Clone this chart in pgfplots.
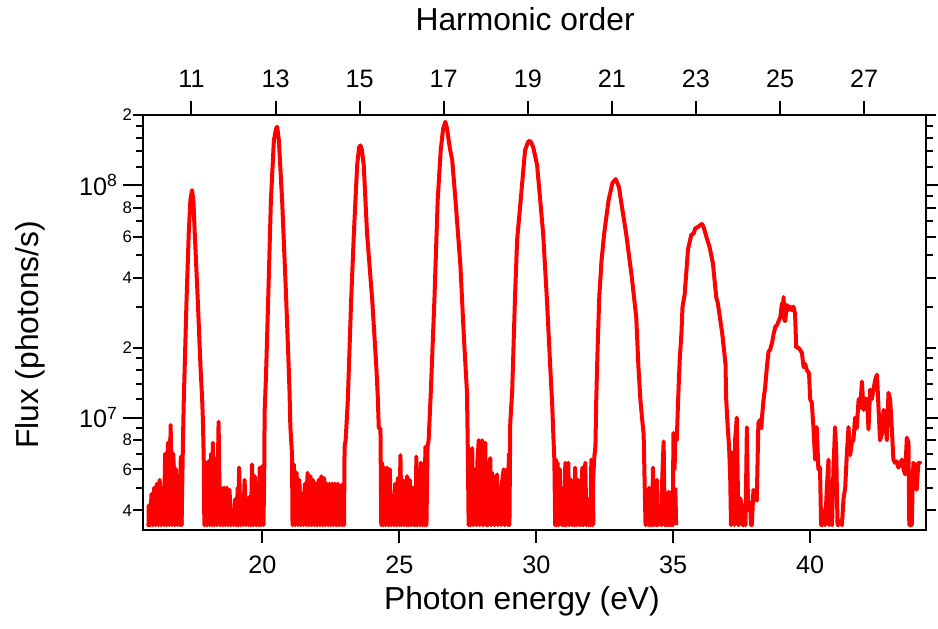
\documentclass[border=0pt]{standalone}
\usepackage{fontspec}
\setmainfont{Liberation Sans}
\usepackage{pgfplots}
\pgfplotsset{compat=1.18}
\begin{document}
\begin{tikzpicture}
\begin{axis}[
  name=main,
  scale only axis, width=391.5pt, height=207.5pt,
  xmin=15.64, xmax=44.23,
  ymode=log, ymin=3.29e6, ymax=2.0e8,
  axis line style={line width=1pt, black},
  every tick/.style={line width=1pt, black},
  tick align=outside,
  xtick pos=left,
  xtick=\empty,
  extra x ticks={20,25,30,35,40},
  extra x tick labels={20,25,30,35,40},
  extra x tick style={major tick length=6.5pt, xtick pos=left},
  xticklabel style={yshift=-3pt},
  minor xtick={16,...,44},
  major tick length=10pt, minor tick length=3.5pt,
  ytick={1e7,1e8},
  yticklabels={10\textsuperscript{7},10\textsuperscript{8}},
  yticklabel style={xshift=1pt},
  minor ytick={5e6,7e6,9e6,1.2e7,1.4e7,1.6e7,1.8e7,3e7,5e7,7e7,9e7,1.2e8,1.4e8,1.6e8,1.8e8},
  extra y ticks={4e6,6e6,8e6,2e7,4e7,6e7,8e7,2e8},
  extra y tick labels={4,6,8,2,4,6,8,2},
  extra y tick style={major tick length=5pt, yticklabel style={font=\fontsize{8.4}{10}\selectfont, xshift=2pt}},
  yticklabel pos=left,
  /pgf/number format/assume math mode=true,
  tick label style={font=\fontsize{12.6}{14}\selectfont},
  xlabel={Photon energy (eV)},
  xlabel style={at={(axis description cs:0.484,-0.1925)}, anchor=base, font=\fontsize{15.9}{18}\selectfont},
  ylabel={Flux (photons/s)},
  ylabel style={at={(axis description cs:-0.134,0.47)}, anchor=base, font=\fontsize{15.9}{18}\selectfont},
]
% solid parts of the noise floor
\addplot[forget plot, fill=red, draw=none] coordinates {(15.84,3.45e6) (15.85,4.2e6) (15.95,4.7e6) (16.05,5.0e6) (16.15,5.2e6) (16.25,5.4e6) (16.35,5.0e6) (16.45,7.0e6) (16.55,7.8e6) (16.65,9.3e6) (16.75,7.0e6) (16.85,6.0e6) (16.95,5.6e6) (17.02,6.8e6) (17.08,5.8e6) (17.10,8.0e6) (17.12,3.45e6)};
\addplot[forget plot, fill=red, draw=none] coordinates {(17.86,3.45e6) (17.86,6.4e6) (17.93,6.4e6) (18.03,6.5e6) (18.13,7.0e6) (18.19,7.8e6) (18.29,6.6e6) (18.40,9.6e6) (18.50,5.0e6) (18.60,5.0e6) (18.70,5.0e6) (18.80,4.9e6) (18.90,3.9e6) (19.00,4.45e6) (19.10,5.0e6) (19.15,6.1e6) (19.25,4.5e6) (19.35,5.4e6) (19.45,4.5e6) (19.55,4.6e6) (19.62,6.3e6) (19.72,5.6e6) (19.82,5.2e6) (19.90,6.1e6) (20.00,6.2e6) (20.07,6.4e6) (20.08,3.45e6)};
\addplot[forget plot, fill=red, draw=none] coordinates {(21.08,3.45e6) (21.08,7.0e6) (21.15,6.3e6) (21.25,5.8e6) (21.35,5.4e6) (21.45,4.7e6) (21.55,5.2e6) (21.65,5.8e6) (21.75,5.6e6) (21.85,5.4e6) (21.95,5.2e6) (22.05,5.4e6) (22.15,5.6e6) (22.25,5.5e6) (22.35,5.2e6) (22.45,5.2e6) (22.55,5.2e6) (22.65,5.2e6) (22.75,5.2e6) (22.85,5.1e6) (22.95,5.2e6) (23.00,7.5e6) (23.00,3.45e6)};
\addplot[forget plot, fill=red, draw=none] coordinates {(24.31,3.45e6) (24.31,6.4e6) (24.45,6.0e6) (24.65,5.8e6) (24.75,4.6e6) (24.85,5.2e6) (25.04,5.6e6) (25.22,5.2e6) (25.38,5.3e6) (25.48,5.0e6) (25.62,5.3e6) (25.70,4.9e6) (25.79,5.2e6) (25.88,4.6e6) (25.97,5.0e6) (26.03,3.45e6)};
\addplot[forget plot, fill=red, draw=none] coordinates {(27.50,3.45e6) (27.50,6.0e6) (27.63,5.4e6) (27.74,5.8e6) (27.85,5.8e6) (27.96,5.8e6) (28.08,5.8e6) (28.20,4.5e6) (28.26,5.4e6) (28.38,5.5e6) (28.50,5.0e6) (28.57,5.3e6) (28.69,4.6e6) (28.81,5.3e6) (28.93,5.5e6) (29.03,5.5e6) (29.05,3.45e6)};
\addplot[forget plot, fill=red, draw=none] coordinates {(30.66,3.45e6) (30.66,5.5e6) (30.78,5.0e6) (30.90,4.3e6) (30.95,3.45e6) (31.04,3.45e6) (31.06,4.6e6) (31.28,4.6e6) (31.35,4.3e6) (31.50,4.6e6) (31.68,4.6e6) (31.80,4.6e6) (31.87,3.9e6) (31.95,4.2e6) (32.05,4.5e6) (32.14,5.0e6) (32.16,3.45e6)};
\addplot[forget plot, fill=red, draw=none] coordinates {(33.96,3.45e6) (33.96,4.5e6) (34.10,4.3e6) (34.26,4.5e6) (34.41,4.5e6) (34.47,3.8e6) (34.60,4.2e6) (34.70,3.45e6) (34.83,4.2e6) (34.95,4.2e6) (35.05,5.0e6) (35.15,5.0e6) (35.18,3.45e6)};
% the spectrum
\addplot[red, line width=2pt, line join=round, line cap=round] coordinates {
(15.84,3.45e6) (15.85,4.2e6) (15.90,3.45e6) (15.95,4.7e6) (16.00,3.45e6) (16.05,5.0e6) (16.10,3.45e6) (16.15,5.2e6) (16.20,3.45e6) (16.25,5.4e6) (16.30,3.45e6) (16.35,5.0e6) (16.40,3.45e6) (16.45,7.0e6) (16.50,3.45e6) (16.55,7.8e6) (16.60,3.45e6) (16.65,9.3e6) (16.70,3.45e6) (16.75,7.0e6) (16.80,3.45e6) (16.85,6.0e6) (16.90,3.45e6) (16.95,5.6e6) (16.99,3.45e6) (17.02,6.8e6) (17.05,3.45e6) (17.08,5.8e6)
(17.10,8.0e6) (17.13,1.2e7) (17.23,3.2e7) (17.31,6.2e7) (17.37,8.6e7) (17.43,9.5e7) (17.48,8.6e7) (17.53,6.2e7) (17.64,3.2e7) (17.74,1.65e7) (17.80,1.2e7) (17.83,9.5e6) (17.86,6.4e6)
(17.88,3.45e6) (17.93,6.4e6) (17.98,3.45e6) (18.03,6.5e6) (18.08,3.45e6) (18.13,7.0e6) (18.16,3.45e6) (18.19,7.8e6) (18.24,3.45e6) (18.29,6.6e6) (18.34,3.45e6) (18.40,9.6e6) (18.45,3.45e6) (18.50,5.0e6) (18.55,3.45e6) (18.60,5.0e6) (18.65,3.45e6) (18.70,5.0e6) (18.75,3.45e6) (18.80,4.9e6) (18.85,3.45e6) (18.90,3.9e6) (18.95,3.45e6) (19.00,4.45e6) (19.05,3.45e6) (19.10,5.0e6) (19.12,3.45e6) (19.15,6.1e6) (19.20,3.45e6) (19.25,4.5e6) (19.30,3.45e6) (19.35,5.4e6) (19.40,3.45e6) (19.45,4.5e6) (19.50,3.45e6) (19.55,4.6e6) (19.58,3.45e6) (19.62,6.3e6) (19.67,3.45e6) (19.72,5.6e6) (19.77,3.45e6) (19.82,5.2e6) (19.86,3.45e6) (19.90,6.1e6) (19.95,3.45e6) (20.00,6.2e6) (20.04,3.45e6) (20.07,6.4e6)
(20.08,1.05e7) (20.13,1.5e7) (20.21,3.2e7) (20.31,8.6e7) (20.42,1.56e8) (20.50,1.75e8) (20.54,1.78e8) (20.60,1.56e8) (20.72,8.6e7) (20.87,3.2e7) (20.96,1.65e7) (20.99,1.3e7) (21.02,9.2e6) (21.08,7.0e6)
(21.10,3.45e6) (21.15,6.3e6) (21.20,3.45e6) (21.25,5.8e6) (21.30,3.45e6) (21.35,5.4e6) (21.40,3.45e6) (21.45,4.7e6) (21.50,3.45e6) (21.55,5.2e6) (21.60,3.45e6) (21.65,5.8e6) (21.70,3.45e6) (21.75,5.6e6) (21.80,3.45e6) (21.85,5.4e6) (21.90,3.45e6) (21.95,5.2e6) (22.00,3.45e6) (22.05,5.4e6) (22.10,3.45e6) (22.15,5.6e6) (22.20,3.45e6) (22.25,5.5e6) (22.30,3.45e6) (22.35,5.2e6) (22.40,3.45e6) (22.45,5.2e6) (22.50,3.45e6) (22.55,5.2e6) (22.60,3.45e6) (22.65,5.2e6) (22.70,3.45e6) (22.75,5.2e6) (22.80,3.45e6) (22.85,5.1e6) (22.90,3.45e6) (22.95,5.2e6) (22.98,3.45e6)
(23.00,7.5e6) (23.04,8.0e6) (23.12,1.2e7) (23.24,3.2e7) (23.34,6.2e7) (23.46,1.22e8) (23.53,1.45e8) (23.58,1.48e8) (23.63,1.42e8) (23.70,1.22e8) (23.82,6.2e7) (24.01,3.2e7) (24.16,1.65e7) (24.21,1.25e7) (24.25,9.0e6) (24.31,9.0e6)
(24.34,3.45e6) (24.37,6.4e6) (24.41,3.45e6) (24.45,6.1e6) (24.50,3.45e6) (24.55,6.1e6) (24.60,3.45e6) (24.65,6.0e6) (24.70,3.45e6) (24.75,4.6e6) (24.80,3.45e6) (24.85,5.2e6) (24.90,3.45e6) (24.95,5.5e6) (25.00,3.45e6) (25.04,6.9e6) (25.08,3.45e6) (25.12,5.4e6) (25.17,3.45e6) (25.22,5.2e6) (25.25,3.45e6) (25.28,5.6e6) (25.33,3.45e6) (25.38,5.4e6) (25.43,3.45e6) (25.48,5.0e6) (25.53,3.45e6) (25.57,5.0e6) (25.60,3.45e6) (25.62,6.8e6) (25.66,3.45e6) (25.70,4.9e6) (25.75,3.45e6) (25.79,6.4e6) (25.84,3.45e6) (25.88,4.6e6) (25.92,3.45e6) (25.95,7.5e6) (25.99,3.45e6)
(26.03,7.5e6) (26.07,8.0e6) (26.15,1.3e7) (26.28,3.2e7) (26.40,8.6e7) (26.51,1.41e8) (26.60,1.75e8) (26.68,1.87e8) (26.74,1.75e8) (26.84,1.45e8) (26.93,1.28e8) (27.05,8.6e7) (27.23,4.5e7) (27.35,2.3e7) (27.47,1.28e7) (27.50,7.3e6)
(27.53,3.45e6) (27.56,7.3e6) (27.60,3.45e6) (27.63,5.4e6) (27.66,7.4e6) (27.70,3.45e6) (27.74,6.0e6) (27.78,5.6e6) (27.81,3.45e6) (27.85,6.5e6) (27.90,8.0e6) (27.93,3.45e6) (27.96,6.0e6) (28.02,8.0e6) (28.05,3.45e6) (28.08,6.5e6) (28.14,7.8e6) (28.17,3.45e6) (28.20,4.5e6) (28.23,3.45e6) (28.26,5.6e6) (28.32,6.7e6) (28.35,3.45e6) (28.38,5.8e6) (28.44,5.4e6) (28.47,3.45e6) (28.50,5.0e6) (28.57,5.7e6) (28.60,3.45e6) (28.63,5.0e6) (28.69,4.6e6) (28.72,3.45e6) (28.75,5.3e6) (28.81,6.0e6) (28.84,3.45e6) (28.87,5.2e6) (28.93,6.0e6) (28.96,3.45e6) (29.00,7.0e6) (29.02,3.45e6)
(29.05,9.5e6) (29.12,1.3e7) (29.22,3.2e7) (29.30,5.8e7) (29.43,8.6e7) (29.59,1.41e8) (29.70,1.53e8) (29.76,1.55e8) (29.82,1.52e8) (29.89,1.45e8) (30.03,1.22e8) (30.25,6.2e7) (30.39,3.2e7) (30.51,1.65e7) (30.58,1.15e7) (30.63,8.0e6) (30.66,6.6e6)
(30.69,3.45e6) (30.72,6.6e6) (30.75,3.45e6) (30.78,6.4e6) (30.82,3.45e6) (30.86,6.0e6) (30.90,4.5e6) (30.95,3.45e6) (31.00,3.6e6) (31.03,3.45e6) (31.06,6.4e6) (31.10,3.45e6) (31.14,5.0e6) (31.17,6.4e6) (31.20,3.45e6) (31.24,5.0e6) (31.28,5.4e6) (31.31,3.45e6) (31.35,4.5e6) (31.39,3.45e6) (31.42,6.1e6) (31.46,3.45e6) (31.50,5.0e6) (31.53,5.4e6) (31.57,3.45e6) (31.61,5.2e6) (31.64,3.45e6) (31.68,6.1e6) (31.72,3.45e6) (31.76,5.0e6) (31.79,6.4e6) (31.83,3.45e6) (31.87,4.0e6) (31.91,3.45e6) (31.95,4.5e6) (31.98,3.45e6) (32.01,6.6e6) (32.05,3.45e6) (32.08,5.5e6) (32.12,6.8e6)
(32.16,7.5e6) (32.19,1.2e7) (32.24,2.0e7) (32.30,3.3e7) (32.38,4.7e7) (32.48,6.2e7) (32.64,8.6e7) (32.78,1.02e8) (32.90,1.06e8) (33.02,9.8e7) (33.09,8.6e7) (33.28,6.2e7) (33.49,4.0e7) (33.65,2.7e7) (33.73,1.65e7) (33.80,1.2e7) (33.86,1.0e7) (33.92,8.5e6) (33.96,5.0e6)
(33.99,3.45e6) (34.02,4.5e6) (34.06,4.3e6) (34.09,3.45e6) (34.12,5.0e6) (34.16,3.45e6) (34.20,4.2e6) (34.23,3.45e6) (34.26,6.1e6) (34.30,3.45e6) (34.34,5.0e6) (34.38,3.45e6) (34.41,5.4e6) (34.44,3.45e6) (34.47,4.0e6) (34.53,3.6e6) (34.57,3.45e6) (34.60,5.5e6) (34.65,7.9e6) (34.69,3.45e6) (34.71,3.8e6) (34.74,3.45e6) (34.77,4.5e6) (34.80,3.45e6) (34.83,4.8e6) (34.87,3.45e6) (34.90,4.0e6) (34.93,3.45e6) (34.95,4.8e6) (34.98,3.45e6) (35.01,8.6e6) (35.05,6.0e6) (35.08,8.4e6) (35.13,8.0e6)
(35.18,1.2e7) (35.24,1.8e7) (35.30,2.3e7) (35.34,3.0e7) (35.42,3.4e7) (35.54,5.3e7) (35.66,6.1e7) (35.75,6.2e7) (35.80,6.5e7) (35.90,6.6e7) (35.97,6.7e7) (36.05,6.8e7) (36.11,6.6e7) (36.21,6.0e7) (36.33,5.4e7) (36.45,4.6e7) (36.57,3.3e7) (36.63,3.1e7) (36.79,2.3e7) (36.91,1.7e7) (36.93,1.23e7) (36.99,9.1e6) (37.04,7.5e6) (37.08,5.6e6)
(37.11,3.45e6) (37.14,7.1e6) (37.17,5.5e6) (37.20,4.5e6) (37.23,3.45e6) (37.26,8.0e6) (37.32,1.0e7) (37.35,6.0e6) (37.38,3.45e6) (37.42,3.6e6) (37.45,4.5e6) (37.50,4.2e6) (37.53,3.45e6) (37.56,3.45e6) (37.60,4.0e6) (37.64,3.45e6) (37.69,9.1e6) (37.72,5.0e6) (37.75,4.0e6) (37.81,4.3e6) (37.84,3.45e6) (37.87,3.45e6) (37.93,4.9e6) (38.00,4.5e6) (38.05,4.4e6) (38.11,9.5e6) (38.18,9.8e6) (38.22,9.0e6)
(38.24,1.0e7) (38.30,1.2e7) (38.36,1.36e7) (38.42,1.65e7) (38.48,1.92e7) (38.54,1.96e7) (38.61,2.1e7) (38.67,2.3e7) (38.73,2.46e7) (38.79,2.5e7) (38.85,2.6e7) (38.91,2.7e7) (38.97,3.1e7) (39.00,2.7e7) (39.03,3.3e7) (39.06,2.63e7) (39.09,2.6e7) (39.15,3.05e7) (39.21,2.9e7) (39.27,3.0e7) (39.33,2.9e7) (39.39,3.0e7) (39.45,2.8e7) (39.49,2.0e7) (39.57,2.0e7) (39.64,1.95e7) (39.70,1.9e7) (39.76,1.65e7) (39.82,1.7e7) (39.88,1.6e7) (39.96,1.55e7) (40.00,1.2e7) (40.06,1.16e7) (40.12,9.1e6) (40.18,6.6e6) (40.24,9.1e6) (40.30,6.0e6) (40.36,6.1e6)
(40.40,3.45e6) (40.44,3.45e6) (40.50,4.0e6) (40.55,3.45e6) (40.61,5.0e6) (40.67,6.6e6) (40.70,3.45e6) (40.73,3.6e6) (40.77,4.2e6) (40.80,3.45e6) (40.85,6.0e6) (40.91,9.1e6) (40.95,7.2e6) (41.00,3.45e6) (41.03,3.45e6) (41.09,3.6e6) (41.16,3.45e6) (41.22,4.5e6) (41.28,5.0e6) (41.34,7.0e6) (41.40,9.1e6) (41.46,6.9e6) (41.52,7.8e6) (41.58,8.0e6)
(41.64,1.0e7) (41.70,9.0e6) (41.77,1.2e7) (41.83,1.1e7) (41.89,1.43e7) (41.95,1.08e7) (42.01,1.2e7) (42.08,1.2e7) (42.13,8.9e6) (42.19,1.32e7) (42.25,1.2e7) (42.32,1.34e7) (42.38,1.46e7) (42.44,1.53e7) (42.50,1.08e7) (42.55,8.0e6) (42.62,8.5e6) (42.68,1.08e7) (42.74,1.02e7) (42.80,8.0e6) (42.86,1.28e7) (42.92,1.2e7) (42.98,9.1e6) (43.04,6.6e6) (43.10,6.4e6) (43.16,6.5e6) (43.22,6.1e6) (43.28,6.3e6) (43.35,6.6e6) (43.41,6.0e6) (43.47,5.7e6) (43.53,8.2e6) (43.59,7.8e6) (43.62,3.45e6) (43.66,3.45e6) (43.71,3.45e6) (43.74,5.0e6) (43.77,6.4e6) (43.83,6.2e6) (43.89,4.9e6) (43.95,6.4e6) (44.01,6.4e6)
};
\end{axis}
\begin{axis}[
  scale only axis, width=391.5pt, height=207.5pt,
  xmin=15.64, xmax=44.23, ymin=0, ymax=1,
  axis x line*=top, axis y line=none,
  axis line style={-, line width=1pt, black},
  every tick/.style={line width=1pt, black},
  tick align=outside,
  major tick length=7pt,
  xtick={17.41,20.48,23.55,26.62,29.69,32.76,35.83,38.90,41.97},
  xticklabels={11,13,15,17,19,21,23,25,27},
  xticklabel style={yshift=3pt},
  minor xtick={},
  tick label style={font=\fontsize{12.6}{14}\selectfont},
  xlabel={Harmonic order},
  xlabel style={at={(axis description cs:0.488,1.2046)}, anchor=base, font=\fontsize{15.9}{18}\selectfont},
]
\end{axis}
\path (main.south west) ++(-71.5pt,-49pt) coordinate (bbsw);
\path (main.north east) ++(6pt,57.5pt) coordinate (bbne);
\pgfresetboundingbox
\path[use as bounding box] (bbsw) rectangle (bbne);
\end{tikzpicture}
\end{document}
